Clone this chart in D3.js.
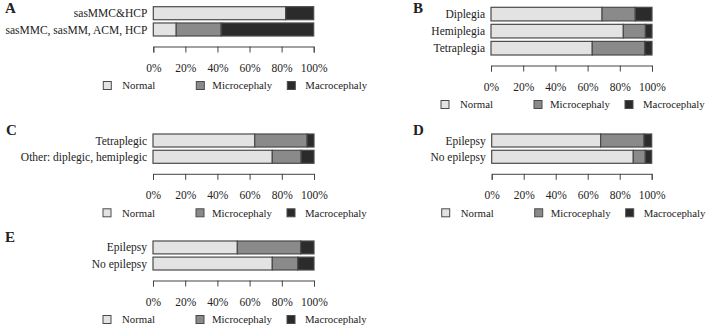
<!DOCTYPE html>
<html lang="en">
<head>
    <meta charset="UTF-8">
    <script src="https://d3js.org/d3.v7.min.js"></script>
    <title>Head circumference by group</title>
    <style>
        body { margin: 0; background: #fff; }
        svg text { font-family: "Liberation Serif", "Times New Roman", serif; fill: #222; }
    </style>
    <script>
        // percentages (normal / microcephaly / macrocephaly)
        const categoriesA = ["sasMMC&HCP", "sasMMC, sasMM, ACM, HCP"];
        const normalA = [82.5, 14.3];
        const microA = [0, 28.0];
        const macroA = [17.5, 57.7];

        const categoriesB = ["Diplegia", "Hemiplegia", "Tetraplegia"];
        const normalB = [69.0, 82.2, 62.9];
        const microB = [20.6, 13.7, 32.6];
        const macroB = [10.4, 4.1, 4.5];

        const categoriesC = ["Tetraplegic", "Other: diplegic, hemiplegic"];
        const normalC = [63.2, 74.1];
        const microC = [32.5, 17.9];
        const macroC = [4.3, 8.0];

        const categoriesD = ["Epilepsy", "No epilepsy"];
        const normalD = [68.1, 88.5];
        const microD = [27.1, 7.5];
        const macroD = [4.8, 4.0];

        const categoriesE = ["Epilepsy", "No epilepsy"];
        const normalE = [52.4, 74.1];
        const microE = [39.3, 15.8];
        const macroE = [8.3, 10.1];

        const seriesNames = ["Normal", "Microcephaly", "Macrocephaly"];
        const tickValues = [0, 20, 40, 60, 80, 100];
        const tickLabels = ["0%", "20%", "40%", "60%", "80%", "100%"];
    </script>
</head>
<body>
    <div id="chart"></div>
    <script>
        const width = 707, height = 326;
        const colors = ["#e3e3e3", "#8a8a8a", "#2b2b2b"];

        const svg = d3.select("#chart")
            .append("svg")
            .attr("width", width)
            .attr("height", height);

        // where each panel sits
        const panels = [
            {tag: "A", cats: categoriesA, vals: [normalA, microA, macroA], x0: 153.3, x1: 313.7, y0: 6.7, y1: 36, lx: 5, ly: 13},
            {tag: "B", cats: categoriesB, vals: [normalB, microB, macroB], x0: 491, x1: 652, y0: 7.3, y1: 55, lx: 413, ly: 13},
            {tag: "C", cats: categoriesC, vals: [normalC, microC, macroC], x0: 153, x1: 314, y0: 134, y1: 163.3, lx: 6, ly: 135},
            {tag: "D", cats: categoriesD, vals: [normalD, microD, macroD], x0: 491.7, x1: 651.7, y0: 134, y1: 163.3, lx: 413, ly: 135},
            {tag: "E", cats: categoriesE, vals: [normalE, microE, macroE], x0: 153, x1: 314, y0: 241, y1: 270, lx: 5, ly: 242}
        ];

        const drawPanel = (p) => {
            const g = svg.append("g");

            const x = d3.scaleLinear().domain([0, 100]).range([p.x0, p.x1]);
            const y = d3.scaleBand().domain(p.cats).range([p.y0, p.y1]).paddingInner(0.2);

            // panel letter
            g.append("text")
                .attr("x", p.lx)
                .attr("y", p.ly)
                .attr("font-size", "15px")
                .attr("font-weight", "bold")
                .text(p.tag);

            // stack the three series
            const rows = p.cats.map((c, i) => {
                const obj = {cat: c};
                seriesNames.forEach((s, k) => { obj[s] = p.vals[k][i]; });
                return obj;
            });
            const stacked = d3.stack().keys(seriesNames)(rows);

            stacked.forEach((layer, k) => {
                g.selectAll(null)
                    .data(layer)
                    .enter()
                    .append("rect")
                    .attr("x", d => x(d[0]))
                    .attr("y", d => y(d.data.cat))
                    .attr("width", d => Math.max(0, x(d[1]) - x(d[0])))
                    .attr("height", y.bandwidth())
                    .attr("fill", colors[k])
                    .attr("stroke", "#4a4a4a")
                    .attr("stroke-width", 1.2);
            });

            // category labels
            g.selectAll(null)
                .data(p.cats)
                .enter()
                .append("text")
                .attr("x", p.x0 - 6)
                .attr("y", d => y(d) + y.bandwidth() / 2)
                .attr("dy", "0.35em")
                .attr("text-anchor", "end")
                .attr("font-size", "11.5px")
                .text(d => d);

            // axis
            const axisY = p.y1 + 10.5;
            const axis = g.append("g")
                .attr("transform", `translate(0, ${axisY})`)
                .call(d3.axisBottom(x)
                    .tickValues(tickValues)
                    .tickFormat((d, i) => tickLabels[i])
                    .tickSize(6)
                    .tickSizeOuter(6)
                    .tickPadding(11));
            axis.selectAll("path, line").attr("stroke", "#444");
            axis.selectAll("text")
                .attr("font-size", "11.5px")
                .attr("fill", "#222");

            // legend
            const legY = axisY + 39;
            const legOffsets = [[-50, -31], [43, 59], [134, 152]];
            seriesNames.forEach((s, k) => {
                g.append("rect")
                    .attr("x", p.x0 + legOffsets[k][0])
                    .attr("y", legY - 4)
                    .attr("width", 8)
                    .attr("height", 8)
                    .attr("fill", colors[k])
                    .attr("stroke", "#4a4a4a");
                g.append("text")
                    .attr("x", p.x0 + legOffsets[k][1])
                    .attr("y", legY)
                    .attr("dy", "0.35em")
                    .attr("font-size", "10.8px")
                    .text(s);
            });
        };

        panels.forEach(drawPanel);
    </script>
</body>
</html>
